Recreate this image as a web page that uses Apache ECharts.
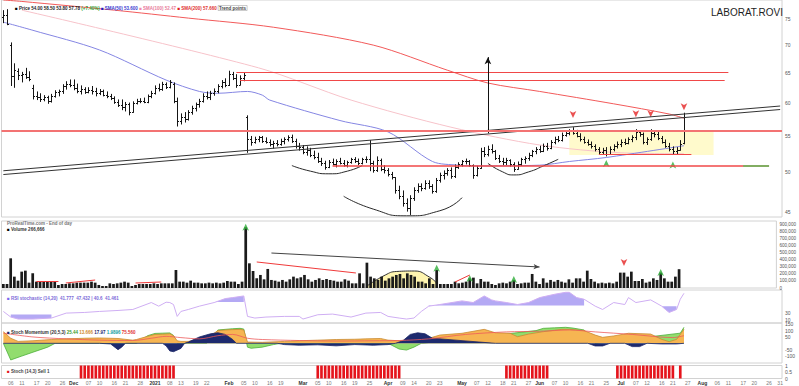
<!DOCTYPE html>
<html><head><meta charset="utf-8">
<script src="https://cdn.jsdelivr.net/npm/echarts@6/dist/echarts.min.js"></script>
<style>html,body{margin:0;padding:0;background:#fff}#c{width:799px;height:386px}</style>
</head><body><div id="c"></div><script>
const F = '"Liberation Sans", Arial, sans-serif';
const L = Math.log;

// ---------- tick labels ----------
const priceTicks = [45, 50, 55, 60, 65, 70, 75];
const volumeTicks = [0, 100000, 200000, 300000, 400000, 500000, 600000, 700000, 800000, 900000];
const rsiTicks = [10, 30];
const stochTicks = [-100, -50, 50, 100, 150];
const signalTicks = [0, 0.5, 1];

// ---------- daily bars [open, high, low, close] ----------
const ohlc = [
[75.5,76.8,74.2,75.8],[75.8,77.0,73.8,74.0],[70.0,70.5,62.8,64.5],[64.5,66.7,62.5,65.5],[65.3,65.8,63.8,64.6],
[64.6,65.2,63.4,64.9],[64.9,65.9,64.0,64.3],[64.3,65.3,63.6,63.9],[62.5,63.0,60.6,61.2],[61.2,61.9,60.5,61.0],
[61.0,61.6,60.2,60.6],[60.6,61.3,60.3,61.0],[61.0,61.2,59.9,60.4],[60.4,61.5,60.1,61.2],[61.2,62.1,60.9,61.8],
[61.8,62.2,61.1,61.9],[61.9,63.1,61.5,62.8],[62.8,63.6,62.2,63.2],[63.2,63.9,62.6,63.0],[63.0,63.9,62.1,62.4],
[62.4,63.2,61.6,62.0],[62.0,62.9,61.4,62.3],[62.3,62.6,61.5,61.8],[61.8,62.6,61.6,62.2],[62.2,62.8,61.4,61.9],
[61.9,62.5,61.1,61.6],[61.6,62.3,61.3,61.9],[61.9,62.2,61.1,61.4],[61.4,61.9,60.8,61.1],[61.1,61.5,60.5,60.8],
[60.8,61.1,59.9,60.2],[60.2,60.6,59.4,59.7],[59.7,60.6,58.9,59.4],[59.4,60.2,58.7,59.9],[59.9,60.1,58.1,58.6],
[58.6,60.3,58.5,60.0],[60.0,60.7,59.8,60.3],[60.3,60.8,60.0,60.4],[60.4,60.9,60.0,60.2],[60.2,61.4,60.0,61.1],
[61.1,62.0,60.8,61.7],[61.7,62.9,61.4,62.5],[62.5,63.2,61.9,62.3],[62.3,63.5,62.0,63.1],[63.1,63.4,62.3,62.7],
[62.7,63.8,62.4,63.5],[63.2,63.4,60.0,60.4],[60.4,60.9,56.4,57.2],[57.2,58.4,56.7,57.8],[57.8,58.6,57.0,57.5],
[57.5,58.9,57.3,58.6],[58.6,59.6,58.2,59.3],[59.3,60.1,58.7,59.8],[59.8,60.7,59.3,60.3],[60.3,61.6,60.1,61.2],
[61.2,61.9,60.6,61.0],[61.0,62.0,60.5,61.7],[61.7,62.4,61.2,62.0],[62.0,63.1,61.6,62.8],[62.8,63.8,62.4,63.5],
[63.5,64.1,62.6,63.0],[63.0,65.4,62.8,64.9],[64.9,65.2,63.8,64.2],[64.2,64.8,62.5,63.0],[63.0,64.6,62.9,64.1],
[64.1,65.0,63.6,64.6],[57.8,58.1,52.6,54.6],[54.6,55.0,53.6,54.2],[54.2,54.9,53.9,54.6],[54.6,55.0,54.1,54.8],
[54.8,55.0,54.0,54.3],[54.3,54.8,53.9,54.1],[54.1,54.5,53.5,53.8],[53.8,54.3,53.2,54.0],[54.0,54.4,53.5,53.9],
[53.9,54.6,53.6,54.3],[54.3,54.8,53.8,54.5],[54.5,55.1,54.2,54.9],[54.9,55.2,54.0,54.3],[54.3,54.6,53.2,53.5],
[53.5,54.0,52.9,53.4],[53.4,53.7,52.4,52.7],[52.7,53.5,52.2,53.0],[53.0,53.3,52.0,52.3],[52.3,52.9,51.7,52.0],
[52.0,52.6,51.2,51.5],[51.5,51.9,50.8,51.2],[51.2,51.5,50.3,50.7],[50.7,51.6,50.5,51.3],[51.3,51.8,50.9,51.1],
[51.1,51.7,50.6,51.4],[51.4,51.9,51.0,51.2],[51.2,51.6,50.7,50.9],[50.9,51.5,50.6,51.3],[51.3,51.9,51.1,51.7],
[51.7,52.0,51.2,51.5],[51.5,51.8,50.9,51.2],[51.2,51.9,51.0,51.8],[51.8,52.1,51.2,51.7],[51.7,54.4,50.1,51.2],
[51.2,51.5,49.9,50.2],[50.2,52.1,50.0,51.6],[51.6,51.8,50.1,50.4],[50.4,50.9,49.8,50.2],[50.2,50.5,49.4,49.7],
[49.7,50.0,49.0,49.3],[49.3,49.3,47.2,47.6],[47.6,48.2,46.5,46.9],[46.9,47.6,45.6,46.1],[46.1,46.6,45.0,45.4],
[45.4,47.0,44.6,46.6],[46.6,48.0,46.3,47.7],[47.7,48.5,47.3,48.1],[48.1,48.5,47.5,47.9],[47.9,48.9,47.7,48.6],
[48.6,48.9,47.8,48.2],[48.2,48.4,47.2,47.5],[47.5,49.2,47.3,48.9],[48.9,49.9,48.6,49.6],[49.6,50.2,49.0,49.8],
[49.8,50.5,49.5,50.2],[50.2,50.6,49.1,49.4],[49.4,51.0,49.2,50.7],[50.7,51.3,50.4,51.0],[51.0,51.6,50.7,51.4],
[51.4,51.8,51.0,51.5],[51.5,51.6,50.7,50.9],[50.9,51.0,49.1,49.6],[49.6,50.8,49.4,50.5],[50.5,53.3,50.4,52.8],
[52.8,53.4,52.0,52.4],[52.4,53.6,52.1,53.2],[53.2,53.8,52.5,52.8],[52.8,53.0,51.6,51.9],[51.9,52.3,51.2,51.5],
[51.5,51.9,50.9,51.3],[51.3,51.9,50.9,51.6],[51.6,51.7,50.7,51.0],[51.0,51.3,50.0,50.4],[50.4,51.4,50.3,51.1],
[51.1,51.9,50.8,51.7],[51.7,52.1,51.1,51.9],[51.9,52.6,51.5,52.3],[52.3,53.0,52.0,52.8],[52.8,53.4,52.4,53.1],
[53.1,53.6,52.6,52.9],[52.9,53.9,52.7,53.6],[53.6,54.0,52.9,53.3],[53.3,54.4,53.1,54.1],[54.1,54.9,53.8,54.6],
[54.6,55.0,54.1,54.4],[54.4,55.5,54.2,55.2],[55.2,55.8,54.9,55.5],[55.5,56.0,55.1,55.7],[55.7,56.3,55.2,55.4],
[55.4,55.9,54.8,55.0],[55.0,55.4,54.2,54.6],[54.6,54.9,53.9,54.2],[54.2,54.5,53.6,53.9],[53.9,54.2,53.2,53.5],
[53.5,53.8,52.8,53.1],[53.1,53.4,52.4,52.7],[52.7,53.3,52.3,53.0],[53.0,53.4,52.1,52.5],[52.5,53.5,52.3,53.2],
[53.2,53.8,52.8,53.5],[53.5,54.2,53.2,53.9],[53.9,54.5,53.4,54.2],[54.2,54.6,53.7,54.0],[54.0,54.8,53.8,54.5],
[54.5,55.1,54.1,54.8],[54.8,56.0,54.4,55.6],[55.6,55.8,54.9,55.3],[55.3,55.5,53.8,54.1],[54.1,54.8,53.7,54.5],
[54.5,56.0,54.3,55.4],[55.4,55.7,54.8,55.3],[55.3,55.6,54.4,54.7],[54.7,55.0,53.9,54.2],[54.2,54.5,53.3,53.6],
[53.6,54.0,52.8,53.2],[53.2,53.5,52.4,52.8],[52.8,53.4,52.3,53.0],[53.0,54.4,52.9,53.8],[54.0,58.5,53.8,57.78]
];

const volume = [
57000,57000,421000,161000,104000,232000,246000,76000,208000,90000,
92000,88000,95000,90000,93000,43000,57000,57000,66000,66000,
76000,76000,76000,76000,90000,76000,43000,28000,28000,66000,
57000,66000,76000,90000,76000,28000,43000,57000,57000,57000,
57000,66000,57000,66000,66000,66000,66000,255000,90000,90000,
76000,104000,76000,76000,66000,66000,76000,66000,76000,66000,
76000,99000,90000,90000,57000,90000,861000,350000,241000,137000,
185000,123000,270000,114000,104000,90000,114000,90000,123000,161000,
137000,152000,185000,123000,90000,114000,137000,114000,128000,114000,
104000,90000,90000,123000,104000,66000,66000,208000,66000,359000,
161000,137000,114000,161000,104000,137000,161000,185000,199000,137000,
208000,185000,161000,90000,90000,66000,137000,57000,255000,57000,
57000,57000,57000,90000,66000,76000,90000,137000,147000,66000,
128000,90000,90000,57000,43000,66000,76000,66000,90000,114000,
57000,66000,76000,76000,199000,90000,57000,137000,76000,114000,
90000,114000,90000,76000,123000,76000,137000,137000,90000,246000,
128000,90000,66000,76000,66000,76000,66000,90000,218000,218000,
161000,232000,99000,99000,128000,76000,90000,137000,114000,218000,
137000,90000,90000,161000,266666
];

const signal = [
0,0,0,0,0,0,0,0,0,0, 0,0,0,0,0,0,0,0,0,0, 0,1,1,1,1,1,1,1,1,1, 1,1,1,1,1,1,1,1,1,1,
1,1,1,1,1,1,1,0,0,0, 0,0,0,0,0,0,0,0,0,0, 0,0,0,0,0,0,0,0,0,0, 0,0,0,0,0,0,0,0,0,0,
0,0,0,0,0,1,1,1,1,1, 1,1,1,1,1,1,1,1,1,1, 1,1,1,1,1,1,1,1,0,0, 0,0,0,0,0,0,0,0,0,0,
0,0,0,0,0,0,0,0,0,0, 0,0,0,0,0,0,1,1,1,1, 1,1,1,1,1,1,1,1,0,0, 0,0,0,0,0,0,0,0,0,0,
0,0,0,0,0,0,1,1,1,1, 1,1,1,1,1,1,1,1,1,1, 1,1,0,1,0
];

// ---------- moving averages [bar index, price] ----------
const sma200 = [[0,78.9],[5,78.6],[30,76.8],[50,75.2],[73,73.4],[100,70.0],[120,65.5],[131,63.3],[145,61.9],[165,59.9],[180,58.3],[184,57.66]];
const sma100 = [[5,76.8],[69,65.9],[94,60.5],[121,56.3],[145,53.7],[167,52.6],[184,52.47]];
const sma50 = [[0,74.4],[8,72.8],[26,69.1],[44,63.8],[53,61.9],[58,61.6],[66,61.9],[70,61.3],[72,60.5],[91,57.3],[104,55.6],[116,51.4],[123,50.9],[127,50.8],[145,50.9],[153,51.4],[163,51.95],[184,53.6]];

// ---------- drawn annotations ----------
const hLines = [[65.16,63,196],[63.8,64,195],[50.85,89,207],[52.42,161,186]];
const fullLine = 55.65;
const greenSeg = [50.85,200,207];
const trendLines = [[[0,50.15],[210,59.55]],[[0,49.65],[210,59.0]]];
const targetArrow = [[131,55.4],[131,67.8]];
const rangeBox = [[153,55.7],[192,52.3]];
const arcs = [
  [[78,50.85],[83,50.1],[88,49.75],[93,50.1],[97,50.85]],
  [[92,46.87],[100,45.3],[109,44.5],[118,45.1],[124,46.7]],
  [[131,51.15],[135,50.0],[138,49.6],[142,50.0],[146,50.8],[150,51.7]]
];
const redDown = [[154,57.7],[171,57.8],[175,57.8],[184,58.9]];
const greenUp = [[163,51.6],[181,51.4]];

const volGreen = [[66,912000],[118,330000],[127,184000],[139,170000],[179,270000]];
const volRed = [[169,312000]];
const volRedLines = [[[69,369000],[96,213000]],[[9,99000],[15,99000]],[[17,71000],[25,113000]],[[36,71000],[43,85000]],[[123,85000],[127,184000]]];
const volArrow = [[73,496000],[146,298000]];
const volHump = [[99,28000],[104,184000],[107,234000],[112,241000],[116,156000],[118,71000]];

// ---------- RSI-type oscillator ----------
const rsiLine = [[0,35],[2,18],[4,12],[8,12],[13,15],[17,30],[22,32],[26,35],[31,38],[35,41],[40,62],[42,51],[44,63],[45,62],[46,56],[47,20],[48,35],[50,41],[53,51],[57,62],[60,74],[62,77],[65,82],[66,20],[68,15],[71,18],[76,20],[80,20],[81,12],[85,25],[89,27],[94,18],[98,30],[102,32],[104,20],[107,15],[109,12],[111,15],[113,35],[115,51],[118,56],[124,67],[127,62],[130,82],[132,70],[133,67],[136,62],[139,56],[142,62],[145,77],[149,87],[152,93],[153,93],[155,77],[157,72],[160,51],[162,41],[165,62],[168,56],[169,77],[171,62],[175,70],[178,51],[179,41],[180,32],[182,41],[183,72],[184,90]];
const rsiZones = [[2,13,26],[57,65,64],[115,157,53],[178,182,51]];
const rsiTags = [90.2, 77.1, 63.4, 48.2];

// ---------- momentum oscillator ----------
const stochOrange = [[0,92],[2,40],[4,15],[8,20],[13,30],[17,35],[22,40],[26,42],[31,38],[35,25],[36,30],[39,55],[41,70],[43,72],[45,75],[46,60],[47,20],[48,15],[50,15],[53,35],[56,60],[58,100],[60,105],[62,108],[64,110],[65,105],[66,10],[70,8],[76,15],[80,20],[85,25],[90,30],[95,32],[98,35],[102,38],[104,25],[107,20],[110,30],[113,36],[115,39],[118,65],[124,79],[130,110],[133,83],[137,79],[139,52],[142,73],[146,92],[151,110],[153,110],[157,100],[160,65],[162,47],[165,58],[169,79],[175,73],[178,31],[180,13],[182,31],[184,110]];
const stochNavy = [[0,0],[26,0],[29,-5],[31,-50],[32,-30],[33,0],[43,0],[44,-20],[45,-60],[46,-66],[48,-40],[49,0],[50,10],[53,50],[56,75],[58,83],[60,70],[62,30],[63,0],[74,0],[76,-10],[80,-15],[85,-12],[90,-20],[95,-10],[100,-15],[104,-10],[106,0],[108,20],[110,70],[112,83],[114,75],[116,40],[124,21],[133,0],[158,0],[160,-21],[162,-21],[164,0],[168,0],[170,-26],[172,-26],[174,0],[178,-5],[182,-5],[184,0]];
const stochGreen = [[0,0],[2,-131],[5,-100],[8,-70],[12,-30],[14,0],[36,0],[39,60],[41,78],[43,80],[45,82],[46,62],[47,0],[55,0],[57,60],[58,105],[60,110],[62,115],[64,118],[65,112],[66,-30],[67,-39],[70,-30],[73,-10],[75,0],[104,0],[107,-45],[109,-53],[111,-30],[113,0],[144,100],[146,118],[149,122],[152,126],[154,120],[157,105],[160,0],[183,80],[184,126]];
const stochRed = [[0,80],[8,50],[17,35],[26,25],[35,22],[40,40],[44,55],[48,45],[53,35],[58,60],[62,70],[66,40],[70,30],[80,22],[90,18],[100,20],[107,22],[115,35],[125,70],[136,90],[145,95],[153,105],[160,90],[170,70],[181,45],[184,60]];
const stochTag = -1.99;

// ---------- trading-day categories ----------
const holidays = ['2020-12-25','2021-01-01','2021-04-02','2021-04-05'];
const dates = [];
{
  const d = new Date(Date.UTC(2020, 10, 4));
  while (dates.length < 211) {
    const wd = d.getUTCDay(); const s = d.toISOString().slice(0, 10);
    if (wd !== 0 && wd !== 6 && holidays.indexOf(s) < 0) dates.push(s);
    d.setUTCDate(d.getUTCDate() + 1);
  }
}
const MN = ['Jan','Feb','Mar','Apr','May','Jun','Jul','Aug','Sep','Oct','Nov','Dec'];
const labText = dates.map(() => '');
{
  const starts = [-2];
  dates.forEach((s, i) => { if (i > 0 && s.slice(5, 7) !== dates[i - 1].slice(5, 7)) starts.push(i); });
  const offs = [4, 7, 11, 14, 18, 21];
  starts.forEach((m, k) => {
    const next = k + 1 < starts.length ? starts[k + 1] : dates.length + 3;
    if (m >= 0) { const mo = +dates[m].slice(5, 7); labText[m] = mo === 1 ? '{m|' + dates[m].slice(0, 4) + '}' : '{m|' + MN[mo - 1] + '}'; }
    offs.forEach(o => { const j = m + o; if (j >= 0 && j < dates.length && j < next - 2) labText[j] = dates[j].slice(8, 10); });
  });
}

// ---------- build option ----------
const last = ohlc[ohlc.length - 1];
const prev = ohlc[ohlc.length - 2];
const chg = ((last[3] / prev[3] - 1) * 100).toFixed(2);
const lp = a => a.map(p => [p[0], L(p[1])]);
const gridBase = { left: 1.5, right: 17, show: true, borderColor: '#d2d2d2', borderWidth: 1 };
const grids = [
  Object.assign({ top: 0, height: 217 }, gridBase),
  Object.assign({ top: 221, height: 67 }, gridBase),
  Object.assign({ top: 290, height: 33 }, gridBase),
  Object.assign({ top: 323, height: 40 }, gridBase),
  Object.assign({ top: 365.5, height: 13 }, gridBase)
];
const xAxes = grids.map((g, k) => ({
  type: 'category', gridIndex: k, data: dates, boundaryGap: true,
  axisLine: { show: false }, axisTick: { show: false }, splitLine: { show: false },
  axisLabel: k === 4 ? {
    show: true, fontSize: 5, color: '#7a7a7a', margin: 2, fontFamily: F,
    interval: (idx) => labText[idx] !== '', formatter: (v, idx) => labText[idx],
    rich: { m: { fontSize: 5, color: '#333', fontWeight: 'bold', fontFamily: F } }
  } : { show: false }
}));
const yLab = { fontSize: 5, color: '#555', margin: 3, fontFamily: F };
const yAxes = [
  { type: 'value', gridIndex: 0, position: 'right', min: L(44.36), max: L(78.9), splitLine: { show: false }, axisLine: { show: false }, axisTick: { show: false },
    axisLabel: Object.assign({ customValues: priceTicks.map(L), formatter: v => String(Math.round(Math.exp(v))) }, yLab) },
  { type: 'value', gridIndex: 1, position: 'right', min: 0, max: 950000, splitLine: { show: false }, axisLine: { show: false }, axisTick: { show: false },
    axisLabel: Object.assign({ customValues: volumeTicks, formatter: v => Number(v).toLocaleString('en-US') }, yLab, { fontSize: 4.6 }) },
  { type: 'value', gridIndex: 2, position: 'right', min: 0, max: 100, splitLine: { show: false }, axisLine: { show: false }, axisTick: { show: false },
    axisLabel: Object.assign({ customValues: rsiTicks }, yLab) },
  { type: 'value', gridIndex: 3, position: 'right', min: -155, max: 160, splitLine: { show: false }, axisLine: { show: false }, axisTick: { show: false },
    axisLabel: Object.assign({ customValues: stochTicks }, yLab) },
  { type: 'value', gridIndex: 4, position: 'right', min: 0, max: 1, splitLine: { show: false }, axisLine: { show: false }, axisTick: { show: false },
    axisLabel: Object.assign({ customValues: signalTicks }, yLab) }
];

const tag = (val, txt, color, bg, dy) => ({
  yAxis: val, lineStyle: { opacity: 0, width: 0 },
  label: { show: true, position: 'end', formatter: txt, color: color, backgroundColor: bg, fontSize: 4.5, fontFamily: F, padding: [0.5, 1], distance: 1, offset: [0, dy] }
});
const solid = (c, w) => ({ color: c, width: w, type: 'solid' });

const priceMarks = [];
hLines.forEach((h, k) => priceMarks.push([{ coord: [h[1], L(h[0])], lineStyle: solid('#f04848', k === 2 ? 1.5 : 1.2) }, { coord: [h[2], L(h[0])] }]));
priceMarks.push([{ coord: [greenSeg[1], L(greenSeg[0])], lineStyle: solid('#5cc15c', 1.5) }, { coord: [greenSeg[2], L(greenSeg[0])] }]);
trendLines.forEach(t => priceMarks.push([{ coord: [t[0][0], L(t[0][1])], lineStyle: solid('#333', 1) }, { coord: [t[1][0], L(t[1][1])] }]));
priceMarks.push([{ coord: [targetArrow[0][0], L(targetArrow[0][1])], lineStyle: solid('#111', 1), symbol: 'none' },
                 { coord: [targetArrow[1][0], L(targetArrow[1][1])], symbol: 'arrow', symbolSize: [5, 7] }]);
priceMarks.push({ yAxis: L(fullLine), lineStyle: solid('#f37373', 2) });
priceMarks.push(tag(L(sma200[sma200.length - 1][1]), sma200[sma200.length - 1][1].toFixed(2), '#e03030', '#ffe3e3', -3.5));
priceMarks.push(tag(L(last[3]), last[3].toFixed(2), '#000', '#ffe82a', 4));
priceMarks.push(tag(L(sma50[sma50.length - 1][1]), sma50[sma50.length - 1][1].toFixed(2), '#3a3ad0', '#ececff', 1));
priceMarks.push(tag(L(sma100[sma100.length - 1][1]), sma100[sma100.length - 1][1].toFixed(2), '#e87a8a', '#fff0f2', 4));

const volMarks = volRedLines.map(s => [{ coord: s[0], lineStyle: solid('#f03a3a', 1) }, { coord: s[1] }]);
volMarks.push([{ coord: volArrow[0], lineStyle: solid('#444', 1), symbol: 'none' }, { coord: volArrow[1], symbol: 'arrow', symbolSize: [4, 6] }]);

const series = [];
series.push({ type: 'line', xAxisIndex: 0, yAxisIndex: 0, data: lp(sma100), symbol: 'none', smooth: 0.3, lineStyle: { color: '#f7c3ca', width: 1 }, z: 1, silent: true });
series.push({ type: 'line', xAxisIndex: 0, yAxisIndex: 0, data: lp(sma50), symbol: 'none', smooth: 0.3, lineStyle: { color: '#8586e3', width: 1 }, z: 1, silent: true });
series.push({ type: 'line', xAxisIndex: 0, yAxisIndex: 0, data: lp(sma200), symbol: 'none', smooth: 0.3, lineStyle: { color: '#f25a5a', width: 1 }, z: 1, silent: true,
  markLine: { silent: true, symbol: ['none', 'none'], animation: false, lineStyle: { type: 'solid' }, label: { show: false }, data: priceMarks },
  markArea: { silent: true, itemStyle: { color: 'rgba(255,246,170,0.6)' }, data: [[{ coord: [rangeBox[0][0], L(rangeBox[0][1])] }, { coord: [rangeBox[1][0], L(rangeBox[1][1])] }]] } });
arcs.forEach(a => series.push({ type: 'line', xAxisIndex: 0, yAxisIndex: 0, data: lp(a), symbol: 'none', smooth: 0.6, lineStyle: { color: '#2a2a2a', width: 1 }, z: 2, silent: true }));
series.push({
  type: 'custom', xAxisIndex: 0, yAxisIndex: 0, z: 3, silent: true,
  data: ohlc.map((r, i) => [i, L(r[0]), L(r[1]), L(r[2]), L(r[3])]),
  encode: { x: 0, y: [1, 2, 3, 4] },
  renderItem: (params, api) => {
    const i = api.value(0);
    const o = api.coord([i, api.value(1)]), h = api.coord([i, api.value(2)]), l = api.coord([i, api.value(3)]), c = api.coord([i, api.value(4)]);
    const x = Math.round(o[0]) + 0.5;
    const st = { stroke: '#151515', lineWidth: 1 };
    const oy = Math.round(o[1]) + 0.5, cy = Math.round(c[1]) + 0.5;
    return { type: 'group', children: [
      { type: 'line', shape: { x1: x, y1: h[1], x2: x, y2: l[1] }, style: st },
      { type: 'line', shape: { x1: x - 1.5, y1: oy, x2: x, y2: oy }, style: st },
      { type: 'line', shape: { x1: x, y1: cy, x2: x + 1.5, y2: cy }, style: st }
    ] };
  }
});
series.push({ type: 'scatter', xAxisIndex: 0, yAxisIndex: 0, data: lp(redDown), symbol: 'arrow', symbolSize: [5, 7], symbolRotate: 180, itemStyle: { color: '#e52525' }, z: 4, silent: true });
series.push({ type: 'scatter', xAxisIndex: 0, yAxisIndex: 0, data: lp(greenUp), symbol: 'arrow', symbolSize: [5, 7], itemStyle: { color: '#2fae3a' }, z: 4, silent: true });

// volume
series.push({ type: 'line', xAxisIndex: 1, yAxisIndex: 1, data: volHump, symbol: 'none', smooth: 0.5, lineStyle: { color: '#333', width: 1 }, areaStyle: { color: '#fff5b0', opacity: 1 }, z: 1, silent: true });
series.push({ type: 'bar', xAxisIndex: 1, yAxisIndex: 1, data: volume, barWidth: '74%', itemStyle: { color: '#1b1b1b' }, z: 2, silent: true,
  markLine: { silent: true, symbol: ['none', 'none'], animation: false, lineStyle: { type: 'solid' }, label: { show: false }, data: volMarks } });
series.push({ type: 'scatter', xAxisIndex: 1, yAxisIndex: 1, data: volGreen, symbol: 'arrow', symbolSize: [5, 7], itemStyle: { color: '#2fae3a' }, z: 4, silent: true });
series.push({ type: 'scatter', xAxisIndex: 1, yAxisIndex: 1, data: volRed, symbol: 'arrow', symbolSize: [5, 7], symbolRotate: 180, itemStyle: { color: '#e52525' }, z: 4, silent: true });

// RSI-type
rsiZones.forEach(z => series.push({ type: 'line', xAxisIndex: 2, yAxisIndex: 2, data: rsiLine.filter(p => p[0] >= z[0] && p[0] <= z[1]), symbol: 'none',
  lineStyle: { width: 0 }, areaStyle: { color: '#9b8cf0', opacity: 0.75, origin: z[2] }, z: 1, silent: true }));
series.push({ type: 'line', xAxisIndex: 2, yAxisIndex: 2, data: rsiLine, symbol: 'none', lineStyle: { color: '#cfaef3', width: 1 }, z: 2, silent: true,
  markLine: { silent: true, symbol: ['none', 'none'], animation: false, data: rsiTags.map(v => tag(v, v.toFixed(2), '#4a4ae0', '#eeeeff', 0)) } });

// momentum
series.push({ type: 'line', xAxisIndex: 3, yAxisIndex: 3, data: stochGreen, symbol: 'none', lineStyle: { color: '#4caf3a', width: 0.8 }, areaStyle: { color: '#92dd6e', opacity: 1 }, z: 1, silent: true });
series.push({ type: 'line', xAxisIndex: 3, yAxisIndex: 3, data: stochOrange, symbol: 'none', lineStyle: { color: '#c98a32', width: 0.8 }, areaStyle: { color: '#f6b552', opacity: 1 }, z: 2, silent: true });
series.push({ type: 'line', xAxisIndex: 3, yAxisIndex: 3, data: stochNavy, symbol: 'none', lineStyle: { color: '#1a2566', width: 0.8 }, areaStyle: { color: '#1d2a6e', opacity: 1 }, z: 3, silent: true });
series.push({ type: 'line', xAxisIndex: 3, yAxisIndex: 3, data: stochRed, symbol: 'none', smooth: 0.3, lineStyle: { color: '#ee5a5a', width: 0.8 }, z: 4, silent: true,
  markLine: { silent: true, symbol: ['none', 'none'], animation: false, data: [tag(stochTag, stochTag.toFixed(2), '#10a0a0', '#e4ffff', 0)] } });

// signal bars
series.push({ type: 'bar', xAxisIndex: 4, yAxisIndex: 4, data: signal, barWidth: '72%', itemStyle: { color: '#e5141c' }, silent: true });

const small = (c) => ({ fontSize: 4.5, color: c, fontFamily: F });
const titles = [
  { text: 'LABORAT.ROVI', left: 706, top: 2, textStyle: { fontSize: 10, fontWeight: 'normal', color: '#1e1e1e', fontFamily: F } },
  { text: '{k|■} Price ' + last[0].toFixed(2) + ' ' + last[1].toFixed(2) + ' ' + last[2].toFixed(2) + ' ' + last[3].toFixed(2) + ' {g|(+' + chg + '%)} {b|■} {bt|SMA(50) ' + sma50[sma50.length-1][1].toFixed(3) + '} {p|■} {pt|SMA(100) ' + sma100[sma100.length-1][1].toFixed(2) + '} {r|■} {rt|SMA(200) ' + sma200[sma200.length-1][1].toFixed(3) + '} {bx|Trend points}',
    left: 10, top: 0.5, textStyle: { fontSize: 4.5, color: '#222', fontFamily: F,
      rich: { k: small('#000'), g: small('#2fa02f'), b: small('#2020c0'), bt: small('#3a3ad0'), p: small('#f08ab0'), pt: small('#e87a9a'), r: small('#e02020'), rt: small('#e03030'),
        bx: { fontSize: 4.5, color: '#444', fontFamily: F, borderColor: '#999', borderWidth: 0.5, padding: [0, 1] } } } },
  { text: 'ProRealTime.com - End of day', left: 2, top: 215.5, textStyle: small('#777') },
  { text: '{k|■} Volume ' + volume[volume.length - 1].toLocaleString('en-US'), left: 2, top: 222, textStyle: { fontSize: 4.5, color: '#333', fontFamily: F, rich: { k: small('#000') } } },
  { text: '{k|■} {t|RSI stochastic (14,20)  41.777  47.432 | 40.6  41.461}', left: 2, top: 290.5, textStyle: { fontSize: 4.5, color: '#6a5acd', fontFamily: F, rich: { k: small('#7b68ee'), t: small('#7a68d8') } } },
  { text: '{k|■} Stoch Momentum (20,5,3) {g|25.44} {o|13.666} {n|17.97} {c|1.9896} {r|75.560}', left: 2, top: 324.5, textStyle: { fontSize: 4.5, color: '#333', fontFamily: F,
      rich: { k: small('#1d2a6e'), g: small('#3a9a2a'), o: small('#d08a2a'), n: small('#1d2a6e'), c: small('#10a0a0'), r: small('#e03030') } } },
  { text: '{k|■} Stoch (14,3) Sell 1', left: 2, top: 363.5, textStyle: { fontSize: 4.5, color: '#444', fontFamily: F, rich: { k: small('#e5141c') } } }
];

const chart = echarts.init(document.getElementById('c'), null, { renderer: 'svg', width: 799, height: 386 });
chart.setOption({ animation: false, backgroundColor: '#ffffff', title: titles, grid: grids, xAxis: xAxes, yAxis: yAxes, series: series });
</script></body></html>
